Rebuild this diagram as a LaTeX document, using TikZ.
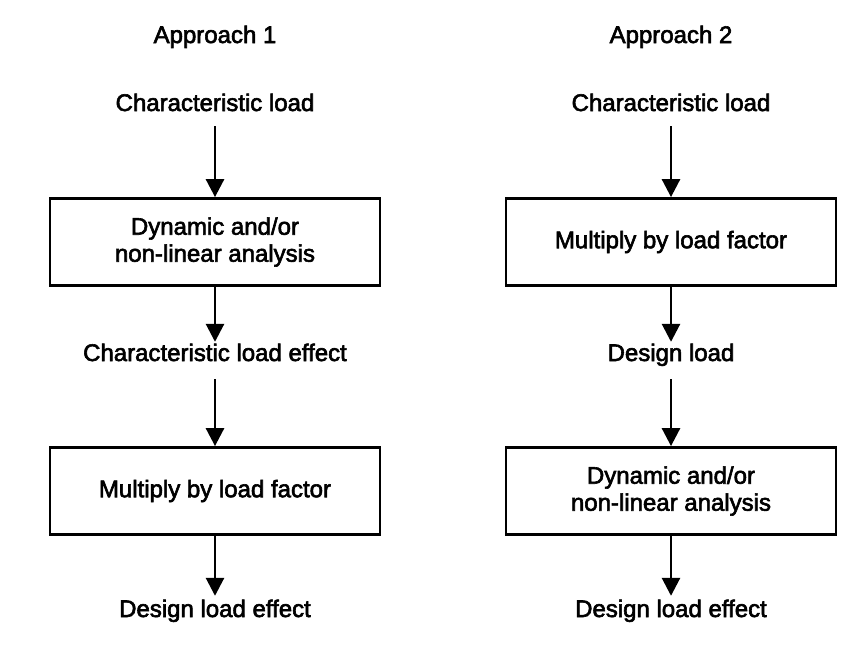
\documentclass[tikz,border=0pt]{standalone}
\usepackage{fontspec}
\setmainfont{Liberation Sans}[BoldFont=Liberation Sans,BoldFeatures={FakeBold=2.5}]
\usetikzlibrary{arrows.meta,positioning}

\begin{document}
\begin{tikzpicture}[x=1pt,y=-1pt,font=\fontsize{24}{27}\selectfont\bfseries,
  stepbox/.style={draw,line width=2.8pt,minimum width=330pt,minimum height=87pt,align=center,inner sep=0pt},
  plain/.style={anchor=base,inner sep=0pt,text height=17pt,text depth=5pt},
  flow/.style={-{Triangle[width=18pt,length=18pt]},line width=2.8pt}]
\useasboundingbox (0,0) rectangle (851,651);
% columns: number, centre x, first box, text between, second box
\foreach \i/\xx/\boxa/\midtext/\boxb in {
 1/215/{Dynamic and/or\\non-linear analysis}/Characteristic load effect/Multiply by load factor,
 2/671/Multiply by load factor/Design load/{Dynamic and/or\\non-linear analysis}} {
 \node[plain] (head\i) at (\xx,43) {Approach \i};
 \node[plain] (load\i) at (\xx,111) {Characteristic load};
 \node[stepbox] (first\i) at (\xx,242) {\boxa};
 \node[plain] (mid\i) at (\xx,361) {\midtext};
 \node[stepbox] (second\i) at (\xx,491) {\boxb};
 \node[plain] (end\i) at (\xx,617) {Design load effect};
 \draw[flow,shorten <=10pt] (load\i) -- (first\i);
 \draw[flow,shorten >=2pt] (first\i) -- (mid\i);
 \draw[flow,shorten <=13pt] (mid\i) -- (second\i);
 \draw[flow,shorten >=4pt] (second\i) -- (end\i);
}
\end{tikzpicture}
\end{document}
